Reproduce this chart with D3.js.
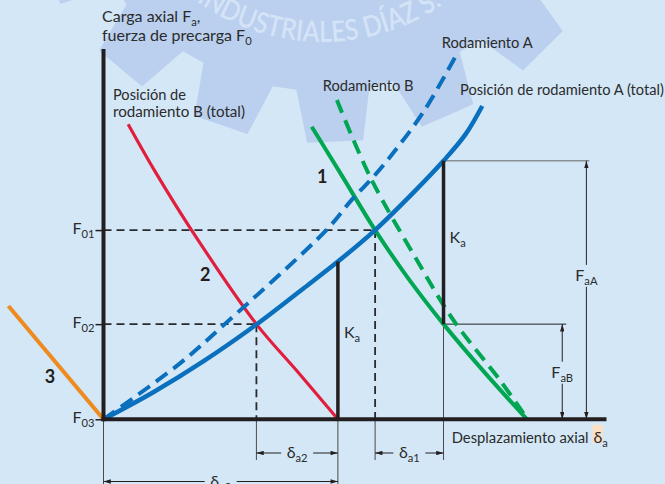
<!DOCTYPE html>
<html><head><meta charset="utf-8">
<script src="https://cdn.jsdelivr.net/npm/d3@7"></script>
<style>html,body{margin:0;padding:0;background:#d3e7f7;overflow:hidden}</style>
</head><body><svg id="c" width="665" height="484"></svg>
<script>
// ---------- DATA (x: desplazamiento axial, y: fuerza; arbitrary units) ----------
const precargaLevels = [51.1, 25.7, 0];
const precargaSubs   = ["01", "02", "03"];
const posicionRodA = [[0,0],[9.9,7.3],[19.9,15.7],[30.4,25.6],[39.8,35.4],[46.6,42.6],[54.0,51.1],[61.6,61.2],[67.6,69.8],[72.0,77.0],[75.3,84.6]];
const rodamientoA  = [[0,0],[15.2,15.1],[24.1,25.7],[44.3,51.1],[49.3,59.2],[53.6,65.4],[57.0,70.9],[63.6,83.0],[69.9,97.8]];
const rodamientoB  = [[46.4,86.2],[53.0,65.5],[62.3,43.0],[69.5,26.9],[78.8,10.6],[84.2,0.2]];
const curva1 = [[41.4,79.0],[47.3,66.0],[54.0,51.1],[60.4,38.4],[67.6,25.7],[75.8,12.6],[84.2,0]];
const curva2 = [[4.9,79.7],[10.1,67.3],[17.5,51.1],[30.4,25.7],[38.3,13.3],[46.6,0]];
const curva3 = [[-18.9,30.6],[0,0]];
const kaLines = [[46.6,0,42.6],[67.6,25.7,69.8]];   // x, yFrom, yTo
const deltaA1 = [54.0, 67.6], deltaA2 = [30.4, 46.6], deltaA3 = [0, 46.6];
const FaA = [67.6, 69.8, 96.0], FaB = [67.6, 25.7, 91.2]; // xFrom, level, arrowX

// ---------- SETUP ----------
const W = 665, H = 484;
const svg = d3.select("#c");
const x = d3.scaleLinear().domain([0, 100]).range([103.5, 606.5]);
const y = d3.scaleLinear().domain([0, 100]).range([419.3, 49]);
const FONT = "Lato, 'Open Sans', sans-serif";
const INK = "#231f20";

svg.append("rect").attr("width", W).attr("height", H).attr("fill", "#d3e7f7");

// ---------- WATERMARK (gear) ----------
const gcx = 322, gcy = -172, rTip = 315, rRoot = 263, nT = 17, th0 = 87.6;
const gear = [];
for (let i = 0; i < nT; i++) {
  const c = th0 + i * 360 / nT;
  [[rRoot, c - 8], [rTip, c - 5.1], [rTip, c + 5.1], [rRoot, c + 8]].forEach(([r, a]) => {
    const t = a * Math.PI / 180;
    gear.push([gcx + r * Math.cos(t), gcy + r * Math.sin(t)]);
  });
}
svg.append("path").attr("d", d3.line()(gear) + "Z").attr("fill", "#bad0ee");
const defs = svg.append("defs");
{
  const r = 214, a0 = 126 * Math.PI / 180, a1 = 30 * Math.PI / 180;
  const p0 = [gcx + r * Math.cos(a0), gcy + r * Math.sin(a0)], p1 = [gcx + r * Math.cos(a1), gcy + r * Math.sin(a1)];
  defs.append("path").attr("id", "arc").attr("d", `M${p0[0]},${p0[1]}A${r},${r} 0 0 0 ${p1[0]},${p1[1]}`);
  svg.append("text").attr("font-family", FONT).attr("font-size", 29).attr("font-weight", 600)
    .attr("fill", "#d4e3f6")
    .append("textPath").attr("href", "#arc").attr("textLength", 262).attr("lengthAdjust", "spacingAndGlyphs")
    .text("INDUSTRIALES DÍAZ S.");
}

// ---------- MARKERS ----------
defs.append("marker").attr("id", "arr").attr("viewBox", "0 0 10 6").attr("refX", 10).attr("refY", 3)
  .attr("markerWidth", 8).attr("markerHeight", 4.4).attr("markerUnits", "userSpaceOnUse").attr("orient", "auto")
  .append("path").attr("d", "M0,0L10,3L0,6Z").attr("fill", INK);

// helper: text with subscripts  parts: [[text, isSub], ...]
function rich(g, px, py, parts, opts = {}) {
  const t = g.append("text").attr("x", px).attr("y", py).attr("font-family", FONT)
    .attr("font-size", opts.size || 16).attr("fill", opts.fill || "#2b2b2b")
    .attr("text-anchor", opts.anchor || "start");
  if (opts.weight) t.attr("font-weight", opts.weight);
  let prevSub = false;
  parts.forEach(([s, sub]) => {
    const ts = t.append("tspan").text(s);
    if (sub && !prevSub) ts.attr("dy", 4).attr("font-size", (opts.size || 16) * 0.7);
    else if (sub) ts.attr("font-size", (opts.size || 16) * 0.7);
    else if (!sub && prevSub) ts.attr("dy", -4);
    prevSub = sub;
  });
  if (opts.width) {
    const w = t.node().getComputedTextLength();
    const sx = opts.width / w;
    t.attr("transform", `translate(${px},0) scale(${sx},1) translate(${-px},0)`);
  }
  return t;
}

// ---------- REFERENCE LINES ----------
const thin = svg.append("g").attr("stroke", "#4a4a4a").attr("stroke-width", 1).attr("fill", "none");
[[deltaA2[0], 460], [deltaA1[0], 460], [deltaA1[1], 460], [0, H], [deltaA2[1], H]].forEach(([dx, yEnd]) => {
  thin.append("line").attr("x1", x(dx)).attr("x2", x(dx)).attr("y1", y(0)).attr("y2", yEnd);
});
thin.append("line").attr("x1", x(FaB[0])).attr("x2", x(FaB[0])).attr("y1", y(FaB[1])).attr("y2", y(0));
thin.append("line").attr("x1", x(FaA[0])).attr("x2", x(FaA[2]) + 3).attr("y1", y(FaA[1])).attr("y2", y(FaA[1])).attr("stroke", "#666");
thin.append("line").attr("x1", x(FaB[0])).attr("x2", x(FaB[2]) + 4).attr("y1", y(FaB[1])).attr("y2", y(FaB[1])).attr("stroke", INK);

// dashed preload lines
const dash = svg.append("g").attr("stroke", "#2a2a2a").attr("stroke-width", 1.8).attr("stroke-dasharray", "8,5").attr("fill", "none");
[[precargaLevels[0], deltaA1[0]], [precargaLevels[1], deltaA2[0]]].forEach(([lv, dx]) => {
  dash.append("line").attr("x1", x(0)).attr("x2", x(dx)).attr("y1", y(lv)).attr("y2", y(lv));
  dash.append("line").attr("x1", x(dx)).attr("x2", x(dx)).attr("y1", y(lv)).attr("y2", y(0));
});

// ---------- CURVES ----------
const line = d3.line().x(d => x(d[0])).y(d => y(d[1])).curve(d3.curveCatmullRom.alpha(0.5));
const curves = [
  [curva3, "#ef8a1e", 4, null],
  [curva2, "#e11f3d", 3.2, null],
  [rodamientoB, "#00a651", 4, "14,8"],
  [curva1, "#00a651", 4, null],
  [rodamientoA, "#0a6fbd", 4, "14,7.5"],
  [posicionRodA, "#0a6fbd", 4.5, null]
];
curves.forEach(([d, col, w, da]) => {
  const p = svg.append("path").datum(d).attr("d", line).attr("fill", "none")
    .attr("stroke", col).attr("stroke-width", w).attr("stroke-linecap", "butt");
  if (da) p.attr("stroke-dasharray", da);
});

kaLines.forEach(([kx, a, b]) => {
  svg.append("line").attr("x1", x(kx)).attr("x2", x(kx)).attr("y1", y(a)).attr("y2", y(b))
    .attr("stroke", INK).attr("stroke-width", 3.5);
});

// ---------- AXES ----------
const gx = svg.append("g").attr("transform", `translate(0,${y(0)})`)
  .call(d3.axisBottom(x).tickValues([]).tickSizeOuter(0));
gx.select(".domain").attr("stroke", INK).attr("stroke-width", 4).attr("d", `M${x(0) - 2},0H${x(100)}`);
const gy = svg.append("g").attr("transform", `translate(${x(0)},0)`)
  .call(d3.axisLeft(y).tickValues(precargaLevels).tickSize(8).tickSizeOuter(0).tickFormat(""));
gy.select(".domain").attr("stroke", INK).attr("stroke-width", 4).attr("d", `M0,${y(0) + 2}V${y(100)}`);
gy.selectAll(".tick line").attr("stroke", INK).attr("stroke-width", 1.5);

precargaLevels.forEach((lv, i) => {
  rich(svg, x(0) - 9, y(lv) + 4, [["F", false], [precargaSubs[i], true]], { anchor: "end" });
});

// ---------- DIMENSIONS ----------
function hDim(a, b, py, parts, labelW) {
  const cx = (x(a) + x(b)) / 2;
  rich(svg, cx, py + 5, parts, { anchor: "middle" });
  const half = labelW / 2 + 5;
  svg.append("line").attr("x1", cx - half).attr("x2", x(a)).attr("y1", py).attr("y2", py)
    .attr("stroke", INK).attr("stroke-width", 1).attr("marker-end", "url(#arr)");
  svg.append("line").attr("x1", cx + half).attr("x2", x(b)).attr("y1", py).attr("y2", py)
    .attr("stroke", INK).attr("stroke-width", 1).attr("marker-end", "url(#arr)");
}
hDim(deltaA2[0], deltaA2[1], 453, [["δ", false], ["a2", true]], 22);
hDim(deltaA1[0], deltaA1[1], 453, [["δ", false], ["a1", true]], 22);
hDim(deltaA3[0], deltaA3[1], 481.5, [["δ", false], ["a3", true]], 22);

function vDim(px, lv, labelY, parts) {
  rich(svg, px, labelY + 6, parts, { anchor: "middle" });
  svg.append("line").attr("x1", px).attr("x2", px).attr("y1", labelY - 10).attr("y2", y(lv))
    .attr("stroke", INK).attr("stroke-width", 1).attr("marker-end", "url(#arr)");
  svg.append("line").attr("x1", px).attr("x2", px).attr("y1", labelY + 12).attr("y2", y(0))
    .attr("stroke", INK).attr("stroke-width", 1).attr("marker-end", "url(#arr)");
}
vDim(x(FaA[2]), FaA[1], y(39), [["F", false], ["aA", true]]);
vDim(x(FaB[2]), FaB[1], y(FaB[1] / 2), [["F", false], ["aB", true]]);

// ---------- LABELS ----------
rich(svg, 102, 22, [["Carga axial F", false], ["a", true], [",", false]]);
rich(svg, 102, 41, [["fuerza de precarga F", false], ["0", true]]);
rich(svg, 113, 100, [["Posición de", false]], { width: 73 });
rich(svg, 113, 117, [["rodamiento B (total)", false]], { width: 132 });
rich(svg, 441.7, 48, [["Rodamiento A", false]], { width: 91 });
rich(svg, 322.7, 91, [["Rodamiento B", false]], { width: 91 });
rich(svg, 460, 95, [["Posición de rodamiento A (total)", false]], { width: 204 });
rich(svg, x(kaLines[0][0]) + 6, 338, [["K", false], ["a", true]]);
rich(svg, x(kaLines[1][0]) + 6, 243, [["K", false], ["a", true]]);

// Desplazamiento axial δa with highlighted δ
{
  rich(svg, 451.7, 443, [["Desplazamiento axial", false]], { width: 137 });
  const gx0 = 593.5;
  svg.append("rect").attr("x", gx0 - 1).attr("y", 425).attr("width", 10.5).attr("height", 18).attr("fill", "#fbe0c3");
  rich(svg, gx0, 443, [["δ", false], ["a", true]]);
}

// curve numbers
rich(svg, x(43.5), y(65.5) + 6, [["1", false]], { anchor: "middle", size: 18, weight: 700, fill: INK });
rich(svg, x(20.2), y(39) + 6, [["2", false]], { anchor: "middle", size: 18, weight: 700, fill: INK });
rich(svg, 50, 383, [["3", false]], { anchor: "middle", size: 18, weight: 700, fill: INK });
</script></body></html>
